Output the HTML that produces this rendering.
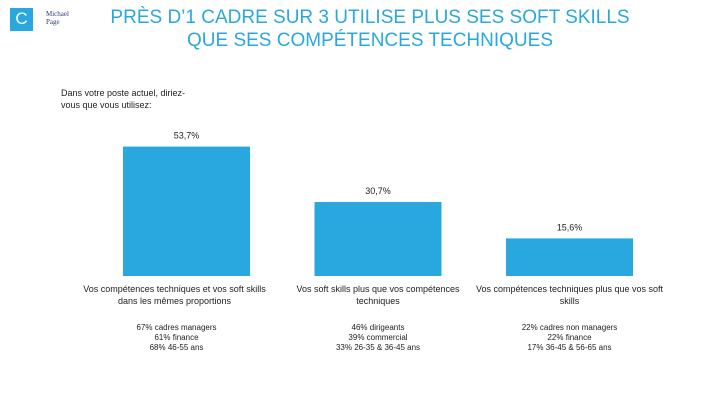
<!DOCTYPE html>
<html><head><meta charset="utf-8"><style>
body{margin:0;width:720px;height:405px;background:#fff;font-family:"Liberation Sans",sans-serif;overflow:hidden;position:relative}
.abs{position:absolute}
.t{color:#29a8e0;font-size:19px;text-align:center;line-height:23px;left:70px;width:600px;top:6px}
.cat{font-size:9px;color:#222;text-align:center;line-height:12px}
.sub{font-size:8px;color:#222;text-align:center;line-height:10px;width:170px}
</style></head><body>
<div class="abs" style="left:10px;top:8px;width:23px;height:23px;background:#29a8e0;color:#fff;font-size:17px;text-align:center;line-height:21px">C</div>
<div class="abs" style="left:46px;top:10px;font-size:7px;line-height:8px;color:#2a3f7a;font-family:'Liberation Serif',serif">Michael<br>Page</div>
<div class="abs t">PRÈS D’1 CADRE SUR 3 UTILISE PLUS SES SOFT SKILLS<br>QUE SES COMPÉTENCES TECHNIQUES</div>
<div class="abs" style="left:61px;top:87px;font-size:9px;line-height:12px;color:#222;width:142px">Dans votre poste actuel, diriez-vous que vous utilisez:</div>
<svg class="abs" style="left:0;top:0" width="720" height="405" id="chart"></svg>
<script>
const categories=["Vos compétences techniques et vos soft skills dans les mêmes proportions","Vos soft skills plus que vos compétences techniques","Vos compétences techniques plus que vos soft skills"];
const values=[53.7,30.7,15.6];
const valueLabels=["53,7%","30,7%","15,6%"];
const subLabels=[["67% cadres managers","61% finance","68% 46-55 ans"],["46% dirigeants","39% commercial","33% 26-35 & 36-45 ans"],["22% cadres non managers","22% finance","17% 36-45 & 56-65 ans"]];
const svg=document.getElementById('chart');const NS='http://www.w3.org/2000/svg';
const base=276,scale=2.41,x0=123,step=191.5,bw=127;
const catW=[194,190,192];
function y(v){return base-v*scale}
values.forEach((v,i)=>{
 const r=document.createElementNS(NS,'rect');
 
 
 r.setAttribute('x',x0+i*step);r.setAttribute('y',y(v));r.setAttribute('width',bw);r.setAttribute('height',base-y(v));r.setAttribute('fill','#29a8e0');svg.appendChild(r);
 const cx=x0+i*step+bw/2;
 const t=document.createElementNS(NS,'text');
 
 
 t.setAttribute('x',cx);t.setAttribute('y',y(v)-8);t.setAttribute('text-anchor','middle');t.setAttribute('font-size','9');t.setAttribute('fill','#222');t.textContent=valueLabels[i];svg.appendChild(t);
 const ccx=cx+(i==0?-12:0);
 const d=document.createElement('div');
 
 
 d.className='abs cat';d.style.width=catW[i]+'px';d.style.left=(ccx-catW[i]/2)+'px';d.style.top='283px';d.textContent=categories[i];document.body.appendChild(d);
 const s=document.createElement('div');
 
 
 s.className='abs sub';s.style.left=(cx-85-(i==0?10:0))+'px';s.style.top='323px';s.innerHTML=subLabels[i].join('<br>');document.body.appendChild(s);
});
</script>
</body></html>
